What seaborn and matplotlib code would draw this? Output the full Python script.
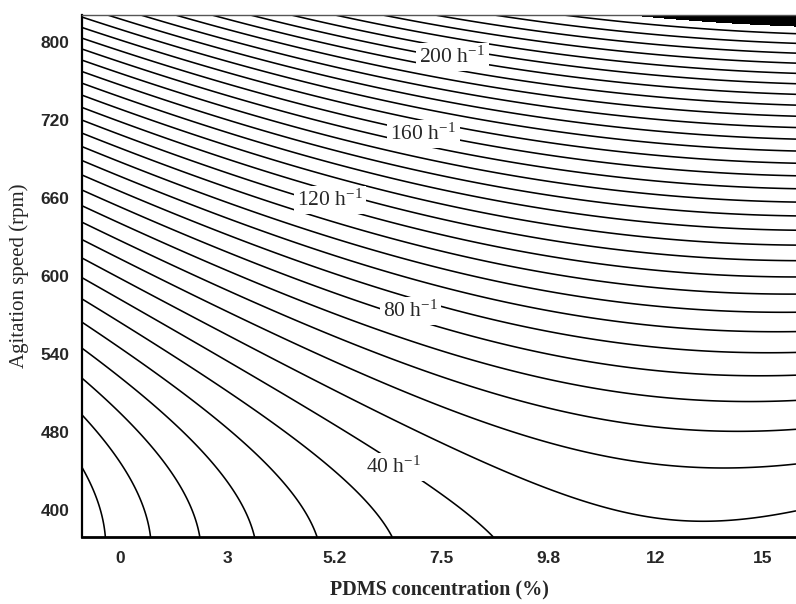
import numpy as np
import matplotlib
matplotlib.use("Agg")
import matplotlib.pyplot as plt
import seaborn as sns

# ---- data ----
x_tick_labels = ["0", "3", "5.2", "7.5", "9.8", "12", "15"]
y_tick_labels = ["400", "480", "540", "600", "660", "720", "800"]

# contour-line crossings along the plot edges (positions in tick-index units), value in h^-1
left_edge_u = -0.355
left_v = [0.55, 1.19, 1.69, 2.08, 2.37, 2.69, 2.99, 3.23, 3.46, 3.68, 3.89, 4.10, 4.30,
          4.49, 4.65, 4.85, 5.00, 5.17, 5.32, 5.47, 5.62, 5.77, 5.90, 6.06, 6.19, 6.31]
left_level = [10, 15, 20, 25, 30, 35, 40, 45, 50, 55, 60, 65, 70,
              75, 80, 85, 90, 95, 100, 105, 110, 115, 120, 125, 130, 135]

right_edge_u = 6.25
right_v = [0.00, 0.55, 1.03, 1.41, 1.71, 2.01, 2.28, 2.53, 2.76, 2.99, 3.21, 3.40, 3.60,
           3.78, 3.97, 4.14, 4.30, 4.44, 4.59, 4.76, 4.91, 5.06, 5.19, 5.33, 5.46, 5.59,
           5.72, 5.85, 5.97, 6.10, 6.26]
right_level = [45, 50, 55, 60, 65, 70, 75, 80, 85, 90, 95, 100, 105, 110, 115, 120, 125,
               130, 135, 140, 145, 150, 155, 160, 165, 170, 175, 180, 185, 190, 195]

bottom_edge_v = -0.346
bottom_u = [-0.12, 0.31, 0.77, 1.26, 1.84, 2.52, 3.45]
bottom_level = [10, 15, 20, 25, 30, 35, 40]

trough_u = [5.41]
trough_v = [-0.17]
trough_level = [45]

contour_levels = np.arange(10, 201, 5)
dark_zone = [194, 1e4]

label_text = ["200 h$^{-1}$", "160 h$^{-1}$", "120 h$^{-1}$", "80 h$^{-1}$", "40 h$^{-1}$"]
label_u = [3.10, 2.83, 1.96, 2.71, 2.55]
label_v = [5.81, 4.82, 3.97, 2.55, 0.55]

# ---- second-order response surface fitted to the read crossings ----
U = np.concatenate([np.full(len(left_v), left_edge_u), np.full(len(right_v), right_edge_u),
                    np.array(bottom_u), np.array(trough_u)])
V = np.concatenate([np.array(left_v), np.array(right_v),
                    np.full(len(bottom_u), bottom_edge_v), np.array(trough_v)])
Z = np.concatenate([left_level, right_level, bottom_level, trough_level]).astype(float)


def design(u, v):
    return np.stack([np.ones_like(u), u, v, u * u, v * v, u * v], axis=-1)


coef, *_ = np.linalg.lstsq(design(U, V), Z, rcond=None)

xlim = (-0.355, 6.308)
ylim = (-0.346, 6.346)
ug = np.linspace(xlim[0], xlim[1], 400)
vg = np.linspace(ylim[0], ylim[1], 400)
UG, VG = np.meshgrid(ug, vg)
ZG = design(UG, VG) @ coef

# ---- drawing ----
sns.set_style("white")
plt.rcParams["font.family"] = ["Liberation Sans", "DejaVu Sans"]
plt.rcParams["mathtext.fontset"] = "custom"
plt.rcParams["mathtext.rm"] = "Liberation Serif"
plt.rcParams["mathtext.it"] = "Liberation Serif:italic"

fig = plt.figure(figsize=(7.96, 6.04), dpi=100)
ax = fig.add_axes([82 / 796, 67 / 604, 714 / 796, 522 / 604])

ax.contourf(UG, VG, ZG, levels=dark_zone, colors="black")
ax.contour(UG, VG, ZG, levels=contour_levels, colors="black", linewidths=1.15)

for t, u, v in zip(label_text, label_u, label_v):
    ax.text(u, v, t, ha="center", va="center", fontsize=15.5, family="Liberation Serif",
            bbox=dict(facecolor="white", edgecolor="none", pad=2.5), zorder=5)

ax.set_xlim(*xlim)
ax.set_ylim(*ylim)
ax.set_xticks(range(len(x_tick_labels)))
ax.set_xticklabels(x_tick_labels, fontsize=12.5, fontweight="bold", family="Liberation Sans")
ax.set_yticks(range(len(y_tick_labels)))
ax.set_yticklabels(y_tick_labels, fontsize=12.5, fontweight="bold", family="Liberation Sans")
ax.tick_params(axis="both", length=0)
ax.tick_params(axis="y", pad=9)
ax.tick_params(axis="x", pad=10)

ax.set_xlabel("PDMS concentration (%)", fontsize=14.5, fontweight="bold",
              family="Liberation Serif", labelpad=10)
ax.set_ylabel("Agitation speed (rpm)", fontsize=15, family="Liberation Serif", labelpad=8)

for side in ["left", "bottom"]:
    ax.spines[side].set_visible(True)
    ax.spines[side].set_color("black")
ax.spines["left"].set_linewidth(1.6)
ax.spines["bottom"].set_linewidth(2.0)
ax.spines["top"].set_visible(True)
ax.spines["top"].set_color("#555555")
ax.spines["top"].set_linewidth(1.0)
ax.spines["right"].set_visible(False)
ax.grid(False)

fig.savefig("out.png", dpi=100)
